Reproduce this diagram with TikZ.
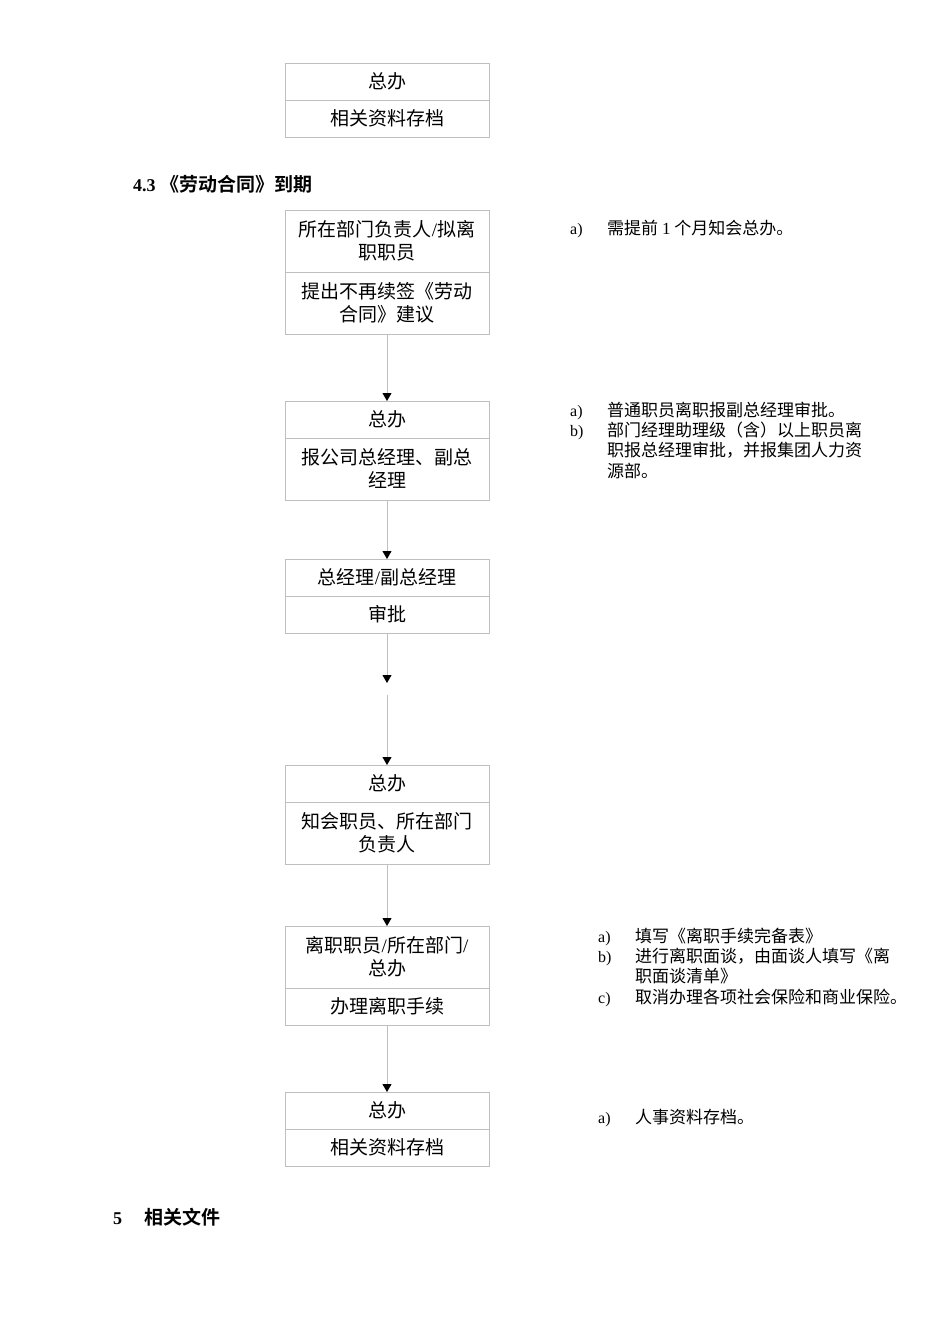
\documentclass[tikz,border=0pt]{standalone}
\usepackage{fontspec}
\usepackage{array}
\setmainfont{Liberation Serif}
\newfontfamily\cjk{Noto Sans CJK SC}[BoldFont={Noto Sans CJK SC Bold}]
\usetikzlibrary{positioning,arrows.meta}

\tikzstyle{cell} = [rectangle, draw=black!25, line width=0.9pt, minimum width=204pt, minimum height=37pt, inner sep=0pt, outer sep=0pt, align=center, font=\cjk\fontsize{19}{23}\selectfont]
\tikzstyle{tall} = [minimum height=62pt]
\tikzstyle{arrow} = [draw=black!25, line width=0.9pt, -{Triangle[width=9pt,length=8pt,black]}]
\tikzstyle{note} = [anchor=base west, inner sep=0pt, font=\cjk\fontsize{17}{20}\selectfont]
\tikzstyle{title} = [anchor=base west, inner sep=0pt, font=\bfseries\fontsize{19}{22}\selectfont]
\newcolumntype{L}{>{\rmfamily\fontsize{16}{20}\selectfont}p{37pt}}

\begin{document}
\begin{tikzpicture}[x=1pt, y=-1pt]
\useasboundingbox (0,0) rectangle (950,1344);

\node (hd0) [cell, anchor=north] at (387,63) {总办};
\node (bd0) [cell, below=0pt of hd0] {相关资料存档};

\node (sec43) [title] at (133,191) {{\fontsize{18}{22}\selectfont 4.3}\hspace{5pt}{\cjk 《劳动合同》到期}};

\node (hd1) [cell, tall, anchor=north] at (387,210) {所在部门负责人{\rmfamily /}拟离\\职职员};
\node (bd1) [cell, tall, below=0pt of hd1] {提出不再续签《劳动\\合同》建议};
\node (hd2) [cell, below=67pt of bd1] {总办};
\node (bd2) [cell, tall, below=0pt of hd2] {报公司总经理、副总\\经理};
\node (hd3) [cell, below=59pt of bd2] {总经理{\rmfamily /}副总经理};
\node (bd3) [cell, below=0pt of hd3] {审批};
\node (hd4) [cell, below=132pt of bd3] {总办};
\node (bd4) [cell, tall, below=0pt of hd4] {知会职员、所在部门\\负责人};
\node (hd5) [cell, tall, below=62pt of bd4] {离职职员{\rmfamily /}所在部门{\rmfamily /}\\总办};
\node (bd5) [cell, below=0pt of hd5] {办理离职手续};
\node (hd6) [cell, below=67pt of bd5] {总办};
\node (bd6) [cell, below=0pt of hd6] {相关资料存档};

\coordinate (brk1) at (387,683);
\coordinate (brk2) at (387,695);

\draw [arrow] (bd1) -- (hd2);
\draw [arrow] (bd2) -- (hd3);
\draw [arrow] (bd3) -- (brk1);
\draw [arrow] (brk2) -- (hd4);
\draw [arrow] (bd4) -- (hd5);
\draw [arrow] (bd5) -- (hd6);

\node (nt1) [note] at (570,234) {\begin{tabular}[t]{@{}L@{}l@{}}
a) & 需提前 {\rmfamily 1} 个月知会总办。
\end{tabular}};
\node (nt2) [note] at (570,416) {\begin{tabular}[t]{@{}L@{}l@{}}
a) & 普通职员离职报副总经理审批。\\
b) & 部门经理助理级（含）以上职员离\\
   & 职报总经理审批，并报集团人力资\\
   & 源部。
\end{tabular}};
\node (nt5) [note] at (598,942) {\begin{tabular}[t]{@{}L@{}l@{}}
a) & 填写《离职手续完备表》\\
b) & 进行离职面谈，由面谈人填写《离\\
   & 职面谈清单》\\
c) & 取消办理各项社会保险和商业保险。
\end{tabular}};
\node (nt6) [note] at (598,1123) {\begin{tabular}[t]{@{}L@{}l@{}}
a) & 人事资料存档。
\end{tabular}};

\node (sec5) [title] at (113,1224) {{\fontsize{18}{22}\selectfont 5}\hspace{22pt}{\cjk 相关文件}};
\end{tikzpicture}
\end{document}
